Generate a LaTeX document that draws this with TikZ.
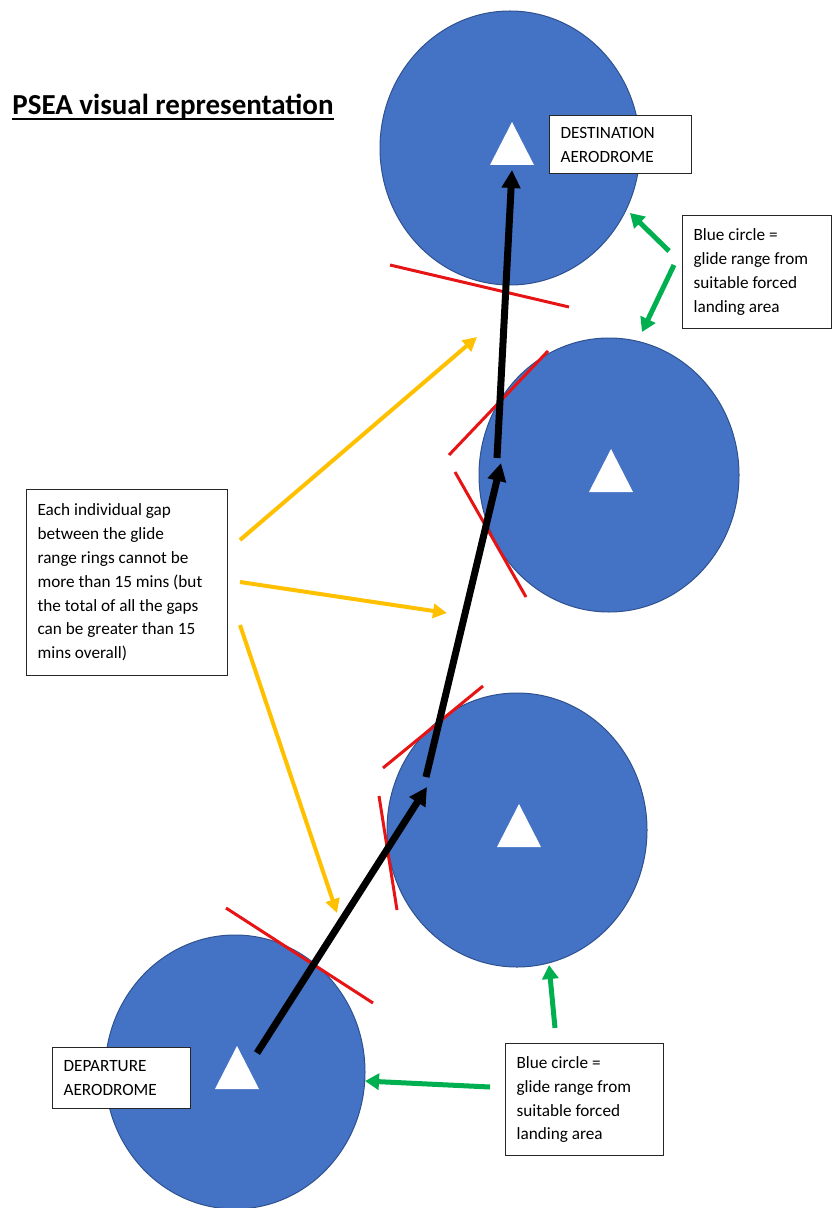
\documentclass[tikz,border=0pt]{standalone}
\usepackage{fontspec}
\setmainfont{Carlito}
\usetikzlibrary{arrows.meta,shapes.geometric}

\definecolor{ringblue}{HTML}{4472C4}
\definecolor{ringedge}{HTML}{2F528F}
\definecolor{gapyellow}{HTML}{FFC000}
\definecolor{notegreen}{HTML}{00B050}
\definecolor{tangentred}{RGB}{230,20,20}

% white aerodrome triangle in the middle of a ring
\newcommand{\aerotri}[1]{\fill[white] ([shift={(2,-26)}]#1.center) -- ++(22,43) -- ++(-44,0) -- cycle;}

\begin{document}
\begin{tikzpicture}[x=0.5pt,y=-0.5pt,
    ring/.style={ellipse,fill=ringblue,draw=ringedge,line width=0.5pt,minimum width=130pt,minimum height=137pt,inner sep=0pt},
    notebox/.style={draw=black!85,fill=white,line width=0.6pt,anchor=north west,align=flush left,inner xsep=5.5pt,inner ysep=0pt,font=\fontsize{8.6}{11.9}\selectfont},
    route/.style={line width=3.5pt,-{Triangle[length=9pt,width=9pt]}},
    gap/.style={gapyellow,line width=2pt,-{Triangle[length=7pt,width=7pt]}},
    pointer/.style={notegreen,line width=2.5pt,-{Triangle[length=7pt,width=8pt]}},
    tangent/.style={tangentred,line width=1.5pt}]

    \useasboundingbox (0,0) rectangle (832,1208);

    % glide range rings
    \node[ring] (dest) at (510,148) {};
    \node[ring] (ringtwo) at (609,475) {};
    \node[ring] (ringone) at (517,830) {};
    \node[ring] (dep) at (235,1072) {};
    \aerotri{dest}
    \aerotri{ringtwo}
    \aerotri{ringone}
    \aerotri{dep}

    % gaps
    \draw[tangent] (390,265) -- (569,307);
    \draw[tangent] (449,455) -- (548,351);
    \draw[tangent] (455,472) -- (526,597);
    \draw[tangent] (383,768) -- (483,686);
    \draw[tangent] (379,796) -- (397,910);
    \draw[tangent] (226,908) -- (373,1003);

    % route
    \coordinate (legA0) at (257,1053); \coordinate (legA1) at (427,787);
    \coordinate (legB0) at (426,777); \coordinate (legB1) at (501,463);
    \coordinate (legC0) at (497,458); \coordinate (legC1) at (512,170);
    \draw[route] (legA0) -- (legA1);
    \draw[route] (legB0) -- (legB1);
    \draw[route] (legC0) -- (legC1);

    % notes
    \node[anchor=base west,inner sep=0pt,font=\bfseries\fontsize{14.5}{17}\selectfont] (title) at (12,115) {PSEA visual representation};
    \draw[line width=1.1pt] ([yshift=-2.2pt]title.base west) -- ([yshift=-2.2pt]title.base east);

    \node[notebox,text width=60pt,minimum height=29pt] (destbox) at (549,115) {DESTINATION\\AERODROME};
    \node[notebox,text width=63.5pt,minimum height=56.5pt] (glidetop) at (682,215) {Blue circle =\\glide range from\\suitable forced\\landing area};
    \node[notebox,text width=89.5pt,minimum height=93pt] (gapbox) at (26,489) {Each individual gap\\between the glide\\range rings cannot be\\more than 15 mins (but\\the total of all the gaps\\can be greater than 15\\mins overall)};
    \node[notebox,text width=58pt,minimum height=30.5pt] (depbox) at (52,1047) {DEPARTURE\\AERODROME};
    \node[notebox,text width=68pt,minimum height=56pt] (glidebot) at (505,1043) {Blue circle =\\glide range from\\suitable forced\\landing area};

    % yellow arrows to the gaps
    \coordinate (gapup0) at (240,540); \coordinate (gapup1) at (477,337);
    \coordinate (gapmid0) at (240,582); \coordinate (gapmid1) at (447,613);
    \coordinate (gaplow0) at (240,625); \coordinate (gaplow1) at (337,913);
    \draw[gap] (gapup0) -- (gapup1);
    \draw[gap] (gapmid0) -- (gapmid1);
    \draw[gap] (gaplow0) -- (gaplow1);

    % green arrows to the rings
    \coordinate (tnote0) at (669,251); \coordinate (tnote1) at (630,213);
    \coordinate (tnote2) at (674,265); \coordinate (tnote3) at (642,332);
    \coordinate (bnote0) at (555,1028); \coordinate (bnote1) at (549,965);
    \coordinate (bnote2) at (490,1087); \coordinate (bnote3) at (365,1081);
    \draw[pointer] (tnote0) -- (tnote1);
    \draw[pointer] (tnote2) -- (tnote3);
    \draw[pointer] (bnote0) -- (bnote1);
    \draw[pointer] (bnote2) -- (bnote3);

\end{tikzpicture}
\end{document}
